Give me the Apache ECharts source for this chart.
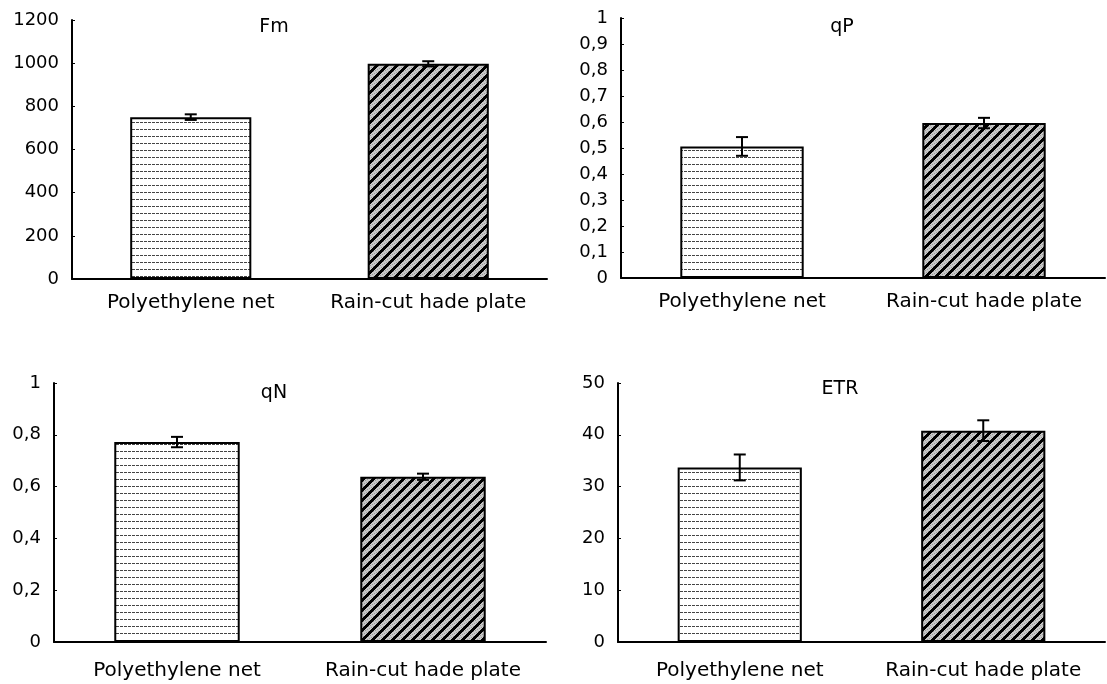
<!DOCTYPE html>
<html>
<head>
<meta charset="utf-8">
<script src="https://cdn.jsdelivr.net/npm/echarts@6/dist/echarts.min.js"></script>
<style>
html,body{margin:0;padding:0;background:#fff;}
#chart{width:1107px;height:684px;}
</style>
</head>
<body>
<div id="chart"></div>
<script>
// ---- Data ----
const categories = ['Polyethylene net', 'Rain-cut hade plate'];
const panelTitles = ['Fm', 'qP', 'qN', 'ETR'];
const fmValues = [750, 997];
const fmErrors = [13, 12];
const qpValues = [0.506, 0.596];
const qpErrors = [0.036, 0.02];
const qnValues = [0.772, 0.638];
const qnErrors = [0.02, 0.012];
const etrValues = [33.7, 40.8];
const etrErrors = [2.5, 2];
const yMax = [1200, 1, 1, 50];
const yInterval = [200, 0.1, 0.2, 10];

// ---- Patterns ----
function dotPattern() {
  const c = document.createElement('canvas');
  c.width = 4; c.height = 7;
  const g = c.getContext('2d');
  g.fillStyle = '#ffffff'; g.fillRect(0, 0, 4, 7);
  g.fillStyle = '#444444'; g.fillRect(0, 3, 3, 1);
  return c;
}
function hatchPattern() {
  const n = 10, k = 4;
  const c = document.createElement('canvas');
  c.width = n; c.height = n;
  const g = c.getContext('2d');
  for (let y = 0; y < n; y++) {
    for (let x = 0; x < n; x++) {
      const d = (x + y) % n;
      g.fillStyle = d < k ? '#000000' : ((x * 3 + y) % 5 === 0 ? '#9a9a9a' : '#c6c6c6');
      g.fillRect(x, y, 1, 1);
    }
  }
  return c;
}
const patterns = [
  { image: dotPattern(), repeat: 'repeat' },
  { image: hatchPattern(), repeat: 'repeat' }
];

const panels = [
  { values: fmValues, errors: fmErrors },
  { values: qpValues, errors: qpErrors },
  { values: qnValues, errors: qnErrors },
  { values: etrValues, errors: etrErrors }
];

const grids = [
  { left: 72, right: 560, top: 20, bottom: 405 },
  { left: 621, right: 2, top: 18, bottom: 406 },
  { left: 54, right: 561, top: 383, bottom: 42 },
  { left: 618, right: 2, top: 383, bottom: 42 }
];
const labelMargins = [14, 14, 19, 19];

const font = 'DejaVu Sans';
const xAxes = [], yAxes = [], series = [];
panels.forEach((p, i) => {
  xAxes.push({
    type: 'category', gridIndex: i, data: categories,
    axisLine: { lineStyle: { color: '#000', width: 2 } },
    axisTick: { show: false },
    axisLabel: { color: '#000', fontFamily: font, fontSize: 20, margin: labelMargins[i], interval: 0 }
  });
  yAxes.push({
    type: 'value', gridIndex: i, min: 0, max: yMax[i], interval: yInterval[i],
    splitLine: { show: false },
    axisLine: { show: true, lineStyle: { color: '#000', width: 2 } },
    axisTick: { show: true, inside: true, length: 3, lineStyle: { color: '#000', width: 1 } },
    axisLabel: {
      color: '#000', fontFamily: font, fontSize: 18, margin: 13,
      formatter: v => String(Math.round(v * 1000) / 1000).replace('.', ',')
    }
  });
  series.push({
    type: 'bar', xAxisIndex: i, yAxisIndex: i, barWidth: '51%',
    data: p.values.map((v, j) => ({
      value: v,
      itemStyle: { color: patterns[j], borderColor: '#000', borderWidth: 2 }
    })),
    silent: true, animation: false
  });
  series.push({
    type: 'custom', xAxisIndex: i, yAxisIndex: i, z: 10, animation: false, silent: true,
    data: p.values.map((v, j) => [j, v - p.errors[j], v + p.errors[j]]),
    renderItem: function (params, api) {
      const lo = api.coord([api.value(0), api.value(1)]);
      const hi = api.coord([api.value(0), api.value(2)]);
      const w = 6;
      const st = { stroke: '#000', lineWidth: 2 };
      return {
        type: 'group', children: [
          { type: 'line', shape: { x1: lo[0], y1: lo[1], x2: hi[0], y2: hi[1] }, style: st },
          { type: 'line', shape: { x1: lo[0] - w, y1: lo[1], x2: lo[0] + w, y2: lo[1] }, style: st },
          { type: 'line', shape: { x1: hi[0] - w, y1: hi[1], x2: hi[0] + w, y2: hi[1] }, style: st }
        ]
      };
    }
  });
});

const titlePos = [[274, 27], [842, 27], [274, 393], [840, 389]];
const graphics = panelTitles.map((t, i) => ({
  type: 'text', x: titlePos[i][0], y: titlePos[i][1],
  style: { text: t, fill: '#000', fontFamily: font, fontSize: 19, textAlign: 'center', textVerticalAlign: 'middle' }
}));

const chart = echarts.init(document.getElementById('chart'));
chart.setOption({
  backgroundColor: '#fff',
  animation: false,
  grid: grids,
  xAxis: xAxes,
  yAxis: yAxes,
  series: series,
  graphic: graphics
});
</script>
</body>
</html>
